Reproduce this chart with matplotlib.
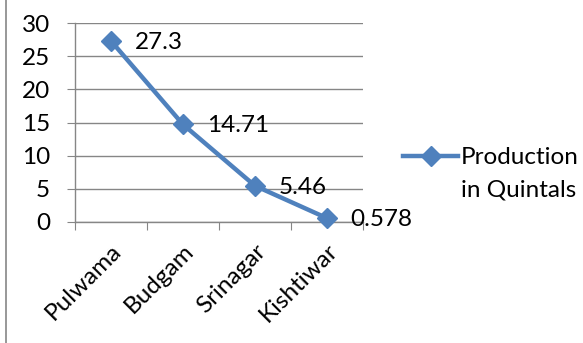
import matplotlib
matplotlib.use("Agg")
import matplotlib.pyplot as plt
from matplotlib.lines import Line2D

categories = ["Pulwama", "Budgam", "Srinagar", "Kishtiwar"]
production = [27.3, 14.71, 5.46, 0.578]
value_labels = ["27.3", "14.71", "5.46", "0.578"]
yticks = [0, 5, 10, 15, 20, 25, 30]
series_name_lines = ["Production", "in Quintals"]

plt.rcParams['font.family'] = ['Lato', 'DejaVu Sans']
BLUE = "#4F81BD"
GRID = "#868686"
FS = 17.5

fig = plt.figure(figsize=(5.83, 3.43), dpi=100)
ax = fig.add_axes([0.1286, 0.3528, 0.494, 0.580])

x = list(range(len(categories)))
ax.plot(x, production, color=BLUE, lw=3.2, marker='D', markersize=10,
        markeredgecolor=BLUE, markerfacecolor=BLUE, zorder=3, clip_on=False)

for xi, yi, lab in zip(x, production, value_labels):
    ax.annotate(lab, (xi, yi), xytext=(17, -1), textcoords='offset points',
                ha='left', va='center', fontsize=FS, color='black')

ax.set_xlim(-0.5, len(categories) - 0.5)
ax.set_ylim(0, 30)
ax.set_yticks(yticks)
ax.set_yticklabels([str(v) for v in yticks], fontsize=FS)
ax.yaxis.grid(True, color=GRID, lw=1)
ax.set_axisbelow(True)

ax.set_xticks([i - 0.5 for i in range(len(categories) + 1)])
ax.set_xticklabels([])
ax.set_xticks(x, minor=True)
ax.set_xticklabels(categories, minor=True, rotation=45, ha='right', va='top',
                   rotation_mode='anchor', fontsize=FS)
ax.tick_params(axis='x', which='minor', length=0, pad=13)
ax.tick_params(axis='x', which='major', length=6, color=GRID, direction='out')
ax.tick_params(axis='y', length=6, color=GRID, pad=12, direction='out')

for s in ['top', 'right']:
    ax.spines[s].set_visible(False)
for s in ['left', 'bottom']:
    ax.spines[s].set_color(GRID)
    ax.spines[s].set_linewidth(1)

# legend (manual, to place the marker on the first text line like the original)
W, H = 583.0, 343.0
ly = 1 - 156 / H
fig.add_artist(Line2D([403 / W, 458 / W], [ly, ly], color=BLUE, lw=3.2,
                      transform=fig.transFigure))
fig.add_artist(Line2D([430.5 / W], [ly], color=BLUE, marker='D', markersize=10,
                      transform=fig.transFigure))
for i, line in enumerate(series_name_lines):
    fig.text(461 / W, 1 - (164 + 32 * i) / H, line, ha='left', va='baseline',
             fontsize=FS)

fig.add_artist(Line2D([0.0103, 0.0103], [0, 1], color=GRID, lw=1.2,
                      transform=fig.transFigure))

fig.savefig("out.png", dpi=100)
